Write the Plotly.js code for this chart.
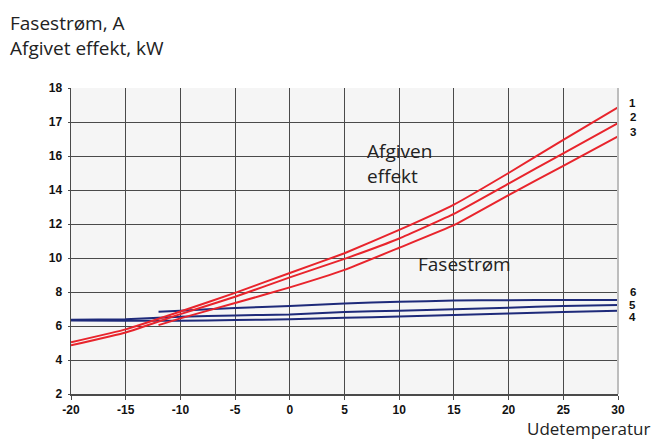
<!DOCTYPE html>
<html>
<head>
<meta charset="utf-8">
<script src="https://cdn.plot.ly/plotly-3.0.1.min.js"></script>
<style>
html,body{margin:0;padding:0;background:#fff;}
#chart{width:656px;height:441px;}
</style>
</head>
<body>
<div id="chart"></div>
<script>
// Outdoor temperature (x)
const tempX = [-20, -15, -10, -5, 0, 5, 10, 15, 20, 25, 30];
const tempXShort = [-12, -10, -5, 0, 5, 10, 15, 20, 25, 30];

// Afgiven effekt (red), curves 1-3 (values on the evenly spaced grid)
const effekt1 = [5.04, 5.80, 6.85, 7.95, 9.12, 10.28, 11.65, 13.14, 15.0, 16.95, 18.86];
const effekt2 = [4.86, 5.62, 6.70, 7.72, 8.86, 9.95, 11.15, 12.60, 14.38, 16.15, 17.94];
const effekt3 = [6.05, 6.45, 7.35, 8.27, 9.30, 10.60, 11.93, 13.70, 15.42, 17.15];

// Fasestrøm (blue), curves 4-6
const strom4 = [6.32, 6.31, 6.31, 6.35, 6.39, 6.48, 6.56, 6.64, 6.73, 6.82, 6.90];
const strom5 = [6.37, 6.40, 6.55, 6.62, 6.68, 6.82, 6.90, 6.99, 7.08, 7.17, 7.24];
const strom6 = [6.84, 6.90, 7.06, 7.18, 7.33, 7.42, 7.50, 7.52, 7.53, 7.53];

// Axis tick labels (as printed in the original)
const yTickVals = [2, 4, 6, 8, 10, 12, 14, 16, 18, 20];
const yTickText = ['2', '4', '6', '8', '10', '12', '14', '16', '17', '18'];
const xTickVals = [-20, -15, -10, -5, 0, 5, 10, 15, 20, 25, 30];
const xTickText = ['-20', '-15', '-10', '-5', '0', '5', '10', '15', '20', '25', '30'];

// Curve end labels
const curveLabels = ['1', '2', '3', '6', '5', '4'];
const curveLabelY = [19.1, 18.28, 17.43, 7.98, 7.24, 6.51];

const RED = '#e8242c';
const BLUE = '#1e2a7a';

function line(x, y, color) {
  return {x: x, y: y, type: 'scatter', mode: 'lines',
          line: {color: color, width: 2, shape: 'spline', smoothing: 0.3},
          hoverinfo: 'skip', showlegend: false};
}

const data = [
  line(tempX, strom4, BLUE),
  line(tempX, strom5, BLUE),
  line(tempXShort, strom6, BLUE),
  line(tempX, effekt1, RED),
  line(tempX, effekt2, RED),
  line(tempXShort, effekt3, RED)
];

const txtFont = {family: 'Open Sans, sans-serif', size: 19, color: '#222'};
const axFont = {family: 'Open Sans, sans-serif', size: 17, color: '#222'};
const numFont = {family: 'Liberation Sans, Arial, sans-serif', size: 12, color: '#111', weight: 'bold'};
const endFont = {family: 'Liberation Sans, Arial, sans-serif', size: 11.5, color: '#111', weight: 'bold'};

const annotations = [
  {x: -0.1152, y: 1.2614, xref: 'paper', yref: 'paper', text: 'Fasestrøm, A<br>Afgivet effekt, kW',
   showarrow: false, xanchor: 'left', yanchor: 'top', align: 'left', font: txtFont},
  {x: 6.9, y: 17.15, xref: 'x', yref: 'y', text: 'Afgiven<br>effekt', showarrow: false,
   xanchor: 'left', yanchor: 'top', align: 'left', font: txtFont},
  {x: 11.5, y: 9.65, xref: 'x', yref: 'y', text: 'Fasestrøm', showarrow: false,
   xanchor: 'left', yanchor: 'middle', align: 'left', font: txtFont},
  {x: 1.062, y: -0.1525, xref: 'paper', yref: 'paper', text: 'Udetemperatur', showarrow: false,
   xanchor: 'right', yanchor: 'bottom', borderpad: 0, font: axFont}
];
curveLabels.forEach(function (t, i) {
  annotations.push({x: 1.0274, y: curveLabelY[i], xref: 'paper', yref: 'y', text: t,
    showarrow: false, xanchor: 'center', yanchor: 'middle', font: endFont});
});

const layout = {
  width: 656, height: 441,
  margin: {l: 71, r: 38, t: 88, b: 47},
  paper_bgcolor: '#ffffff',
  plot_bgcolor: '#f5f5f5',
  xaxis: {range: [-20, 30], tickvals: xTickVals, ticktext: xTickText, showgrid: true, gridcolor: '#4a4a4a', gridwidth: 1,
          zeroline: false, showline: true, linecolor: '#4a4a4a', linewidth: 1.5,
          ticks: 'outside', ticklen: 4, tickcolor: '#4a4a4a', tickfont: numFont,
          ticklabelstandoff: 0, fixedrange: true},
  yaxis: {range: [2, 20], tickvals: yTickVals, ticktext: yTickText, showgrid: true, gridcolor: '#4a4a4a',
          gridwidth: 1, zeroline: false, showline: true, linecolor: '#4a4a4a', linewidth: 1.5,
          ticks: 'outside', ticklen: 2, tickcolor: '#4a4a4a', tickfont: numFont,
          ticklabelstandoff: 3, fixedrange: true},
  shapes: [
    {type: 'line', xref: 'paper', yref: 'paper', x0: 1, x1: 1, y0: 0, y1: 1,
     line: {color: '#bdbdbd', width: 2}}
  ],
  annotations: annotations
};

Plotly.newPlot('chart', data, layout, {displayModeBar: false, staticPlot: true});
</script>
</body>
</html>
